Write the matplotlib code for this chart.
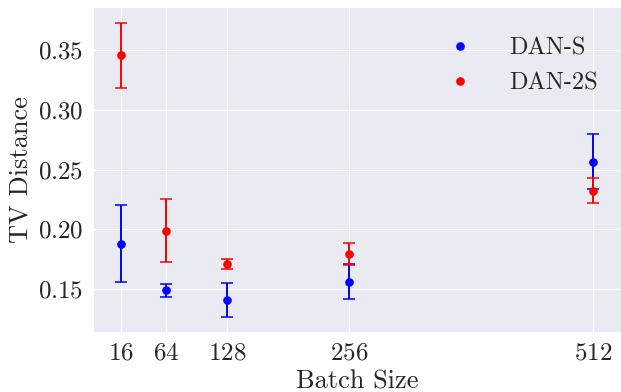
import numpy as np
import matplotlib
matplotlib.use('Agg')
import matplotlib.pyplot as plt
import seaborn as sns

batch_sizes = [16, 64, 128, 256, 512]

dan_s_mean = [0.188, 0.149, 0.141, 0.1564, 0.2567]
dan_s_err = [0.0323, 0.0055, 0.0141, 0.0145, 0.0228]

dan_2s_mean = [0.3455, 0.199, 0.171, 0.1797, 0.2325]
dan_2s_err = [0.0271, 0.0263, 0.0040, 0.0093, 0.0105]

sns.set_style('darkgrid')
plt.rcParams['font.family'] = ['cmr10', 'DejaVu Serif']
plt.rcParams['mathtext.fontset'] = 'cm'
plt.rcParams['axes.formatter.use_mathtext'] = True

fig = plt.figure(figsize=(6.21, 3.92), dpi=100)
ax = fig.add_axes([0.1493, 0.1523, 0.8507, 0.8291])

ax.errorbar(batch_sizes, dan_s_mean, yerr=dan_s_err, fmt='none', ecolor='blue',
            elinewidth=1.4, capsize=4.5, capthick=1.1)
ax.errorbar(batch_sizes, dan_2s_mean, yerr=dan_2s_err, fmt='none', ecolor='red',
            elinewidth=1.4, capsize=4.5, capthick=1.1)
ax.plot(batch_sizes, dan_s_mean, 'o', color='blue', markersize=5.2, label='DAN-S')
ax.plot(batch_sizes, dan_2s_mean, 'o', color='red', markersize=5.2, label='DAN-2S')

ax.set_xticks(batch_sizes)
ax.set_yticks([0.15, 0.20, 0.25, 0.30, 0.35])
ax.set_xlim(-13.3, 541)
ax.set_ylim(0.114, 0.3857)
ax.tick_params(labelsize=18)
ax.set_xlabel('Batch Size', fontsize=19, labelpad=4)
ax.set_ylabel('TV Distance', fontsize=19)
ax.legend(loc='upper right', bbox_to_anchor=(0.997, 0.975), fontsize=17.5,
          frameon=False, labelspacing=0.55, handletextpad=1.0)

fig.savefig('out.png', dpi=100)
